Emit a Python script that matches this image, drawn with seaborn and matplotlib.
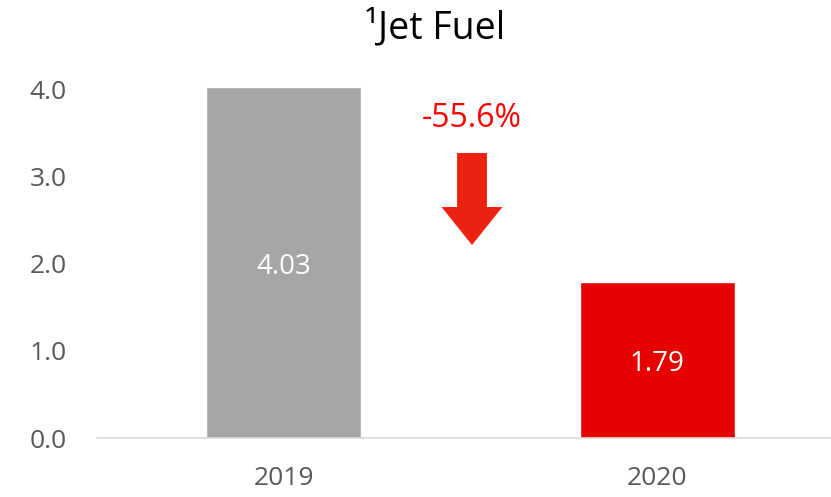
import matplotlib
matplotlib.use("Agg")
import matplotlib.pyplot as plt
import matplotlib.patches as mpatches
import seaborn as sns
import pandas as pd

# chart data
years = ["2019", "2020"]
values = [4.03, 1.79]
bar_colors = ["#a5a5a5", "#e60000"]
change_label = "-55.6%"
title = "\u00b9Jet Fuel"
yticks = [0.0, 1.0, 2.0, 3.0, 4.0]

sns.set_theme(style="white")
plt.rcParams['font.family'] = ['Open Sans', 'DejaVu Sans']

df = pd.DataFrame({"Year": years, "Value": values})

fig = plt.figure(figsize=(8.31, 4.97), dpi=100)
ax = fig.add_axes([97/831, 1 - 438/497, 734/831, 0.709])

sns.barplot(data=df, x="Year", y="Value", hue="Year", palette=bar_colors,
            width=0.415, legend=False, ax=ax, saturation=1)

ax.set_xlim(-0.5, -0.5 + 734/373.5)
ax.set_ylim(0, 4.05)
ax.set_yticks(yticks)
ax.set_yticklabels([f"{t:.1f}" for t in yticks])
ax.set_xlabel("")
ax.set_ylabel("")
ax.tick_params(axis='y', length=0, pad=22, labelsize=19, labelcolor="#595959")
ax.tick_params(axis='x', length=0, pad=20, labelsize=19, labelcolor="#595959")

for s in ["top", "right", "left"]:
    ax.spines[s].set_visible(False)
ax.spines["bottom"].set_color("#d9d9d9")
ax.spines["bottom"].set_linewidth(1.2)

# value labels inside the bars
for i, v in enumerate(values):
    ax.text(i, v / 2 - 0.05, f"{v:.2f}", ha="center", va="center", color="white", fontsize=20)

# change arrow and label
ax.add_patch(mpatches.FancyArrow(0.504, 3.276, 0, -1.058, width=0.08, head_width=0.163,
                                 head_length=0.437, length_includes_head=True,
                                 color="#ee2211", linewidth=0))
ax.text(0.504, 3.67, change_label, ha="center", va="center", color="#ff0000", fontsize=23)

fig.text(435/831, 1 - 28/497, title, ha="center", va="center", fontsize=27, color="black")

fig.savefig("out.png", dpi=100)
